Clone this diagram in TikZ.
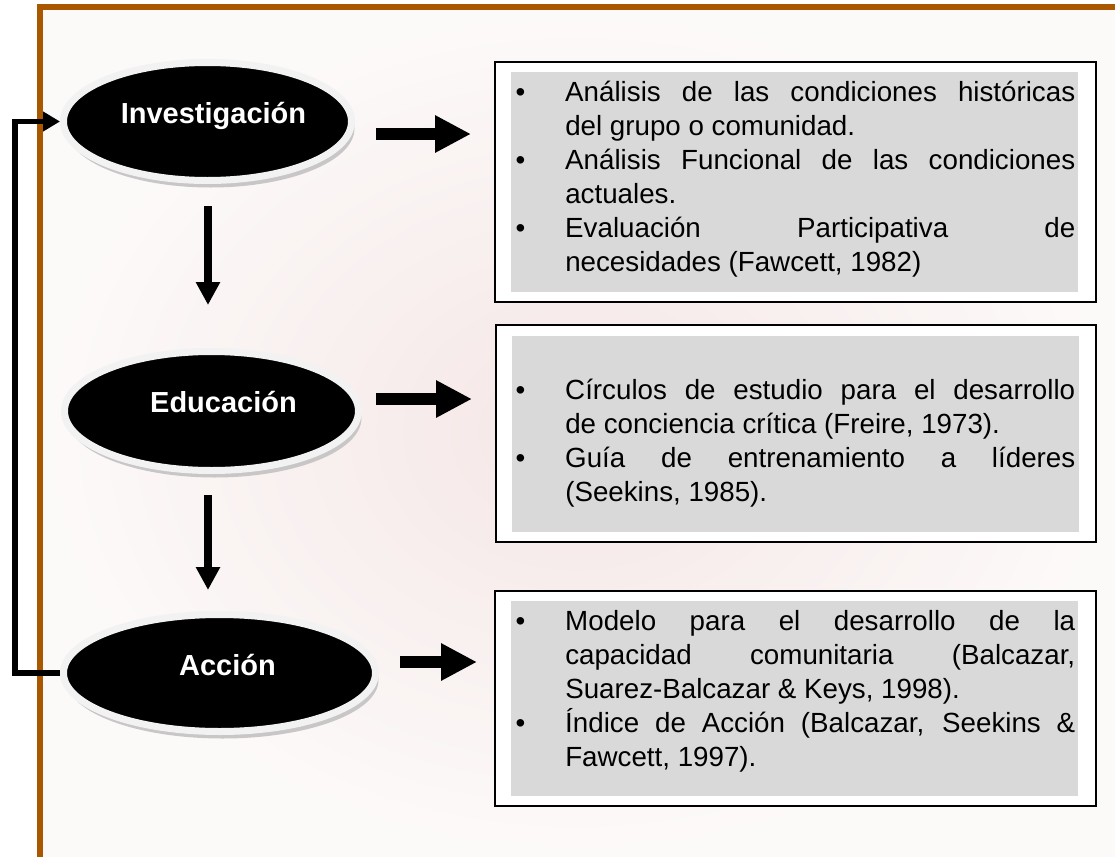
\documentclass[tikz,border=0pt]{standalone}
\usepackage{fontspec}
\setmainfont{Liberation Sans}
\usetikzlibrary{arrows.meta,shapes.geometric,calc,shadows}
\definecolor{brownborder}{RGB}{170,88,0}
\definecolor{boxgray}{RGB}{217,217,217}
\definecolor{rimgray}{RGB}{242,242,242}
\definecolor{shadowgray}{RGB}{200,198,198}
\definecolor{bginner}{RGB}{245,230,230}
\definecolor{bgouter}{RGB}{252,250,249}
\tolerance=10000
\hbadness=10000
\hyphenpenalty=10000
\exhyphenpenalty=10000
\newcommand\bitem[1]{\hangindent=35.25pt\hangafter=1\noindent\makebox[35.25pt][l]{\hspace{-2pt}\textbullet}#1\par}
\tikzset{
 oval/.style={ellipse, fill=black, draw=rimgray, line width=5.25pt, inner sep=0pt,
   drop shadow={shadow xshift=2.25pt, shadow yshift=-5.25pt, fill=shadowgray, opacity=1}},
 ovaltext/.style={text=white, font=\fontsize{21.75}{26}\selectfont\bfseries, anchor=base, inner sep=0pt},
 outerbox/.style={draw=black, line width=1.5pt, fill=white, inner sep=0pt},
 innerbox/.style={fill=boxgray, inner sep=0pt},
 bodytext/.style={text width=417.75pt, align=justify, anchor=base west, inner sep=0pt,
   font=\fontsize{20.8}{25.6}\selectfont},
 bigarrow/.style={line width=9pt, -{Triangle[length=27pt,width=26.25pt]}},
 downarrow/.style={line width=6pt, -{Triangle[length=17.25pt,width=17.25pt]}},
 loopline/.style={line width=4pt, -{Triangle[length=12.75pt,width=14.25pt]}},
}
\begin{document}
\begin{tikzpicture}[x=0.75pt,y=-0.75pt]
\useasboundingbox (0,0) rectangle (1115,857);
\clip (0,0) rectangle (1115,857);
\fill[white] (0,0) rectangle (1115,857);
\shade[inner color=bginner, outer color=bgouter] (40,7) rectangle (1115,857);
\draw[brownborder, line width=4.75pt] (40,7) rectangle (1140,880);

% ovals
\node[oval, minimum width=216pt, minimum height=88.5pt] (inv) at (207.5,121.5) {};
\node[oval, minimum width=220.5pt, minimum height=89.25pt] (edu) at (211.5,411) {};
\node[oval, minimum width=234pt, minimum height=87.75pt] (acc) at (219.5,673) {};
\node[ovaltext] (invt) at (213.5,123) {Investigación};
\node[ovaltext] (edut) at (223.5,412.5) {Educación};
\node[ovaltext] (acct) at (227.5,675) {Acción};

% feedback loop
\draw[loopline] (acc.west) -- ++(-45,0) |- (inv.west);

% boxes
\node[outerbox, minimum width=450.75pt, minimum height=180pt] (box1) at (795.5,182) {};
\node[innerbox, minimum width=425.25pt, minimum height=165pt] (in1) at (794.5,182) {};
\node[outerbox, minimum width=450pt, minimum height=162.75pt] (box2) at (796,433.5) {};
\node[innerbox, minimum width=425.25pt, minimum height=147pt] (in2) at (795.5,434) {};
\node[outerbox, minimum width=450.75pt, minimum height=161.25pt] (box3) at (795.5,698.5) {};
\node[innerbox, minimum width=425.25pt, minimum height=146.25pt] (in3) at (794.5,698.5) {};

\node[bodytext] (t1) at (518,101) {%
\bitem{Análisis de las condiciones históricas\linebreak del grupo o comunidad.}%
\bitem{Análisis Funcional de las condiciones\linebreak actuales.}%
\bitem{Evaluación Participativa de\linebreak necesidades (Fawcett, 1982)}};
\node[bodytext] (t2) at (518,399) {%
\bitem{Círculos de estudio para el desarrollo\linebreak de conciencia crítica (Freire, 1973).}%
\bitem{Guía de entrenamiento a líderes\linebreak (Seekins, 1985).}};
\node[bodytext] (t3) at (518,630) {%
\bitem{Modelo para el desarrollo de la\linebreak capacidad comunitaria (Balcazar,\linebreak Suarez-Balcazar \& Keys, 1998).}%
\bitem{Índice de Acción (Balcazar, Seekins \&\linebreak Fawcett, 1997).}};

% right arrows
\draw[bigarrow] ($(inv.east)+(21,12.5)$) -- ($(box1.west)+(-23,-48)$);
\draw[bigarrow] ($(edu.east)+(14,-12)$) -- ($(box2.west)+(-23,-34.5)$);
\draw[bigarrow] ($(acc.east)+(21,-11)$) -- ($(box3.west)+(-17,-36.5)$);

% down arrows
\draw[downarrow] ($(inv.south)+(0.5,22)$) -- ($(edu.north)+(-3.5,-43)$);
\draw[downarrow] ($(edu.south)+(-3.5,21)$) -- ($(acc.north)+(-11.5,-21)$);
\end{tikzpicture}
\end{document}
